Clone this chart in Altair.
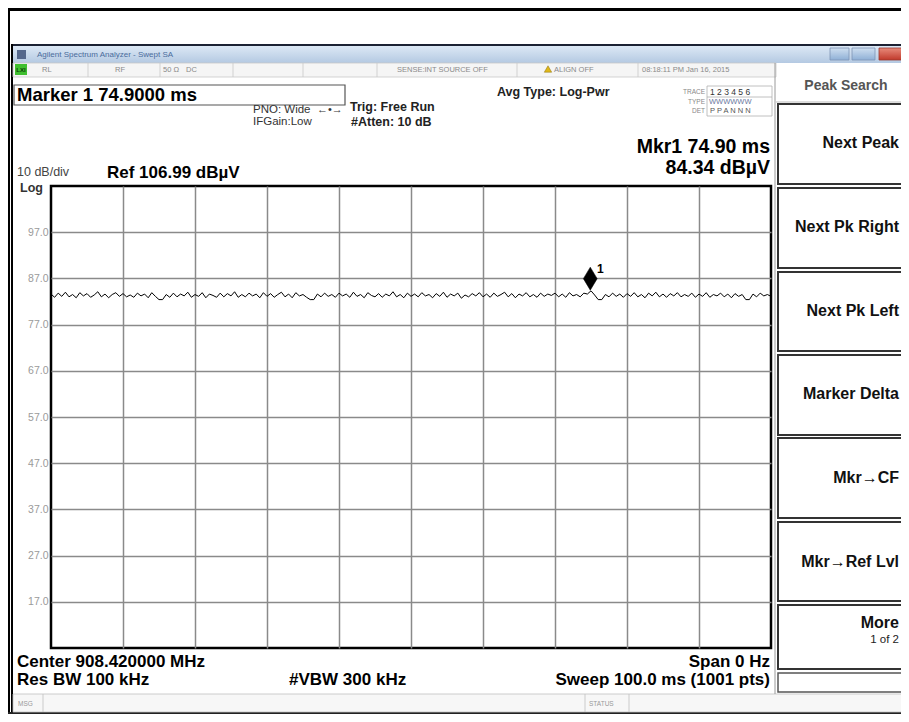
import altair as alt
import pandas as pd

FONT = "Liberation Sans"

# ---------------- data ----------------
# trace amplitude (dBuV), one value every 0.5 ms over the 100 ms sweep
trace_db = [
    83.6, 82.9, 83.8, 83.1, 84.0, 83.0, 83.5, 82.8, 83.9, 83.2, 83.7, 82.9, 83.4, 84.1, 83.0, 83.6, 82.8, 83.5, 83.9, 83.1,
    83.7, 83.0, 83.4, 82.9, 83.8, 83.2, 83.6, 82.8, 83.9, 83.1, 82.4, 82.4, 83.5, 82.9, 83.8, 83.0, 83.6, 83.2, 84.0, 82.9,
    83.5, 83.1, 83.9, 82.8, 83.6, 83.3, 82.9, 83.8, 83.0, 83.7, 83.2, 84.1, 82.9, 83.5, 83.0, 83.8, 83.2, 83.6, 82.8, 83.9,
    83.1, 83.7, 82.9, 83.5, 84.0, 83.0, 83.6, 82.8, 83.9, 83.2, 83.5, 82.9, 82.4, 82.4, 83.6, 83.0, 83.8, 83.1, 83.5, 82.9,
    83.8, 83.2, 83.6, 82.9, 84.0, 83.1, 83.5, 82.8, 83.9, 83.3, 83.0, 83.7, 82.9, 83.6, 83.2, 84.1, 83.0, 83.5, 82.8, 83.8,
    83.1, 83.6, 83.0, 83.9, 83.2, 83.5, 82.8, 83.7, 83.1, 84.0, 82.9, 83.6, 83.2, 83.8, 82.7, 83.4, 83.0, 83.7, 83.2, 83.9,
    83.0, 83.6, 82.9, 83.8, 83.1, 83.5, 84.0, 83.0, 83.7, 82.8, 83.6, 83.2, 83.9, 83.0, 83.5, 82.9, 83.8, 83.1, 83.6, 83.3,
    83.8, 83.0, 83.6, 82.9, 83.9, 83.2, 83.5, 83.0, 83.8, 83.6, 84.3, 83.4, 82.4, 82.4, 83.5, 83.0, 83.8, 83.1, 83.6, 82.9,
    83.7, 83.1, 83.9, 83.0, 83.5, 82.8, 83.8, 83.2, 84.0, 83.0, 83.6, 82.9, 83.7, 83.2, 83.9, 83.0, 83.5, 83.1, 83.8, 82.9,
    83.6, 83.1, 83.9, 82.9, 83.5, 83.2, 83.8, 83.0, 83.6, 82.8, 83.7, 83.1, 83.5, 82.4, 82.4, 83.6, 83.0, 83.8, 83.2, 83.5,
    83.1,
]
sweep_step_ms = 0.5
sweep_ms = 100.0
marker_ms = [74.9]
marker_db = [84.34]
ref_level_db = 106.99
db_per_div = 10
y_grid_db = [96.99, 86.99, 76.99, 66.99, 56.99, 46.99, 36.99, 26.99, 16.99]
x_grid_ms = [10, 20, 30, 40, 50, 60, 70, 80, 90]
softkey_labels = ["Next Peak", "Next Pk Right", "Next Pk Left", "Marker Delta",
                  "Mkr\u2192CF", "Mkr\u2192Ref Lvl", "More"]

# ---------------- layout helpers (page pixel coordinates) ----------------
OX, OY = 51, 186          # top-left of plot area on the page
W, H = 720, 462


def px(v):
    return v - OX


def py(v):
    return v - OY


ONE = pd.DataFrame({"k": [0]})


def text(s, x, y, size=10, weight="normal", align="left", color="black",
         baseline="middle", font=FONT):
    return alt.Chart(ONE).mark_text(
        text=s, fontSize=size, fontWeight=weight, align=align,
        baseline=baseline, color=color, font=font
    ).encode(x=alt.value(px(x)), y=alt.value(py(y)))


def rect(x1, y1, x2, y2, fill="white", stroke="", sw=1.0, fo=1.0):
    kw = dict(fill=fill, fillOpacity=fo)
    if stroke:
        kw.update(stroke=stroke, strokeWidth=sw)
    return alt.Chart(ONE).mark_rect(**kw).encode(
        x=alt.value(px(x1)), x2=alt.value(px(x2)),
        y=alt.value(py(y1)), y2=alt.value(py(y2)))


def line(x1, y1, x2, y2, color="#000", sw=1.0):
    return alt.Chart(ONE).mark_rule(color=color, strokeWidth=sw).encode(
        x=alt.value(px(x1)), x2=alt.value(px(x2)),
        y=alt.value(py(y1)), y2=alt.value(py(y2)))


title_grad = {"gradient": "linear", "x1": 0, "y1": 0, "x2": 0, "y2": 1,
              "stops": [{"offset": 0, "color": "#dce8f5"},
                        {"offset": 1, "color": "#b4c9e2"}]}
btn_grad = {"gradient": "linear", "x1": 0, "y1": 0, "x2": 0, "y2": 1,
            "stops": [{"offset": 0, "color": "#cfdff0"},
                      {"offset": 1, "color": "#8fb0d6"}]}
close_grad = {"gradient": "linear", "x1": 0, "y1": 0, "x2": 0, "y2": 1,
              "stops": [{"offset": 0, "color": "#e88a7a"},
                        {"offset": 1, "color": "#c0392b"}]}

layers = []
# outer frame
layers += [
    rect(8, 8, 901, 11, fill="black"),
    rect(8, 8, 10, 714, fill="black"),
    rect(11, 44, 13, 714, fill="black"),
    rect(8, 712, 901, 714, fill="#222"),
]
# window title bar
layers += [
    rect(13, 44, 901, 46, fill="#1c2233"),
    rect(13, 46, 901, 63, fill=title_grad),
    rect(17, 50, 26, 59, fill="#55688c"),
    text("Agilent Spectrum Analyzer - Swept SA", 37, 55, size=8, color="#4a6c9c"),
    rect(830, 48, 849, 60, fill=btn_grad, stroke="#7d95b5", sw=0.8),
    rect(852, 48, 875, 60, fill=btn_grad, stroke="#7d95b5", sw=0.8),
    rect(879, 48, 905, 60, fill=close_grad, stroke="#9a3a30", sw=0.8),
]
# status row
layers += [
    rect(13, 63, 776, 77, fill="#f5f5f5", stroke="#c8c8c8", sw=0.8),
    rect(15, 64, 27, 75, fill="#3fbf2f"),
    text("LXI", 21, 69.5, size=6, color="#0b3a08", align="center", weight="bold"),
]
for sx in [88, 160, 233, 303, 377, 517, 638]:
    layers.append(line(sx, 63, sx, 77, color="#c8c8c8", sw=0.8))
layers += [
    text("RL", 42, 70, size=7.5, color="#8a8a8a"),
    text("RF", 115, 70, size=7.5, color="#8a8a8a"),
    text("50 \u03a9", 163, 70, size=7.5, color="#8a8a8a"),
    text("DC", 186, 70, size=7.5, color="#8a8a8a"),
    text("SENSE:INT  SOURCE OFF", 397, 70, size=7.5, color="#8a8a8a"),
    alt.Chart(ONE).mark_point(shape="triangle-up", filled=True, fill="#e0b818",
                              stroke="#8a7010", strokeWidth=0.5, size=55, opacity=1).encode(
        x=alt.value(px(548)), y=alt.value(py(69))),
    text("ALIGN OFF", 554, 70, size=7.5, color="#8a8a8a"),
    text("08:18:11 PM Jan 16, 2015", 642, 70, size=7.5, color="#8a8a8a"),
]
# marker readout box and settings
layers += [
    rect(14, 85, 345, 105, fill="white", stroke="#555", sw=1.2),
    text("Marker 1 74.9000 ms", 17, 101, size=18.5, weight="bold", baseline="alphabetic"),
    text("PNO: Wide", 253, 110, size=11.5, color="#333"),
    text("\u2190\u2022\u2192", 317, 110, size=11, color="#333"),
    text("IFGain:Low", 253, 122, size=11.5, color="#333"),
    text("Trig: Free Run", 350, 107, size=12.5, weight="bold", color="#222"),
    text("#Atten: 10 dB", 351, 122, size=12.5, weight="bold", color="#222"),
    text("Avg Type: Log-Pwr", 497, 92, size=12.5, weight="bold", color="#222"),
    text("TRACE", 705, 92, size=6.5, color="#888", align="right"),
    text("TYPE", 705, 102, size=6.5, color="#888", align="right"),
    text("DET", 705, 111, size=6.5, color="#888", align="right"),
    rect(707, 86, 772, 116, fill="white", stroke="#b0b0b0", sw=0.8),
    line(707, 97, 772, 97, color="#b0b0b0", sw=0.8),
    text("1 2 3 4 5 6", 710, 92, size=8.5, color="#333"),
    text("WWWWWW", 709, 102, size=7.5, color="#6a78a0"),
    text("P P A N N N", 710, 111, size=7.5, color="#555"),
    text("Mkr1 74.90 ms", 770, 153, size=19.5, weight="bold", align="right", baseline="alphabetic"),
    text("84.34 dB\u00b5V", 770, 174, size=19.5, weight="bold", align="right", baseline="alphabetic"),
    text("10 dB/div", 17, 172, size=12.5, color="#444"),
    text("Log", 20, 187.5, size=12.5, weight="bold", color="#333"),
    text("Ref 106.99 dB\u00b5V", 107, 178, size=17, weight="bold", baseline="alphabetic"),
]
# bottom annotations
layers += [
    text("Center 908.420000 MHz", 17, 667, size=17, weight="bold", baseline="alphabetic"),
    text("Res BW 100 kHz", 17, 685, size=17, weight="bold", baseline="alphabetic"),
    text("#VBW 300 kHz", 289, 685, size=17, weight="bold", baseline="alphabetic"),
    text("Span 0 Hz", 770, 667, size=17, weight="bold", baseline="alphabetic", align="right"),
    text("Sweep  100.0 ms (1001 pts)", 770, 685, size=17, weight="bold",
         baseline="alphabetic", align="right"),
    rect(13, 694, 905, 712, fill="#f7f7f7", stroke="#c0c0c0", sw=0.8),
    line(43, 694, 43, 712, color="#c0c0c0", sw=0.8),
    line(585, 694, 585, 712, color="#c0c0c0", sw=0.8),
    line(629, 694, 629, 712, color="#c0c0c0", sw=0.8),
    text("MSG", 18, 704, size=6.5, color="#999"),
    text("STATUS", 589, 704, size=6.5, color="#999"),
]
# softkey panel
layers += [
    line(775, 63, 775, 694, color="#9a9a9a", sw=1),
    text("Peak Search", 846, 86, size=14, weight="bold", color="#555", align="center"),
    line(776, 102, 905, 102, color="#bbbbbb", sw=1),
]
box_spans = [(104, 184), (188, 268), (272, 351), (355, 435), (438, 518), (522, 601), (605, 669)]
label_y = [143, 227, 311, 394, 478, 562, 623]
for (t0, t1), lab, ly in zip(box_spans, softkey_labels, label_y):
    layers.append(rect(778, t0, 915, t1, fill="white", stroke="#333", sw=2))
    layers.append(text(lab, 899, ly, size=16, weight="bold", align="right", color="#111"))
layers += [
    text("1 of 2", 899, 640, size=11.5, align="right", color="#222"),
    rect(778, 673, 915, 692, fill="white", stroke="#555", sw=1.5),
]

# ---------------- trace, grid and marker ----------------
trace_df = pd.DataFrame({"ms": [i * sweep_step_ms for i in range(len(trace_db))],
                         "db": trace_db})
marker_df = pd.DataFrame({"ms": marker_ms, "db": marker_db})

xs = alt.Scale(domain=[0, sweep_ms], nice=False, zero=False)
ys = alt.Scale(domain=[ref_level_db - 10 * db_per_div, ref_level_db], nice=False, zero=False)

trace = alt.Chart(trace_df).mark_line(color="black", strokeWidth=1).encode(
    x=alt.X("ms:Q", scale=xs,
            axis=alt.Axis(values=x_grid_ms, grid=True, labels=False, ticks=False,
                          domain=False, title=None, gridColor="#8a8a8a", gridWidth=1.5)),
    y=alt.Y("db:Q", scale=ys,
            axis=alt.Axis(values=y_grid_db, format=".1f", grid=True, ticks=False,
                          domain=False, title=None, labelColor="#9a9a9a",
                          labelFontSize=10.5, labelFont=FONT, labelPadding=3,
                          gridColor="#8a8a8a", gridWidth=1.5)),
)

diamond = alt.Chart(marker_df).mark_point(
    shape="M0,-1L0.6,0L0,1L-0.6,0Z", filled=True, fill="black", stroke="black",
    strokeWidth=0.5, size=529, yOffset=-12, opacity=1
).encode(x=alt.X("ms:Q", scale=xs), y=alt.Y("db:Q", scale=ys))

marker_label = alt.Chart(marker_df).mark_text(
    text="1", dx=10, dy=-22, fontSize=12, fontWeight="bold", font=FONT, color="black"
).encode(x=alt.X("ms:Q", scale=xs), y=alt.Y("db:Q", scale=ys))

chart = alt.layer(*layers, trace, diamond, marker_label).properties(
    width=W, height=H,
    padding={"left": 43, "top": 178, "right": 130, "bottom": 66},
    autosize=alt.AutoSizeParams(type="none"),
    background="white",
).configure_view(stroke="black", strokeWidth=2.5)

chart.save("out.html", embed_options={"renderer": "svg", "actions": False})
